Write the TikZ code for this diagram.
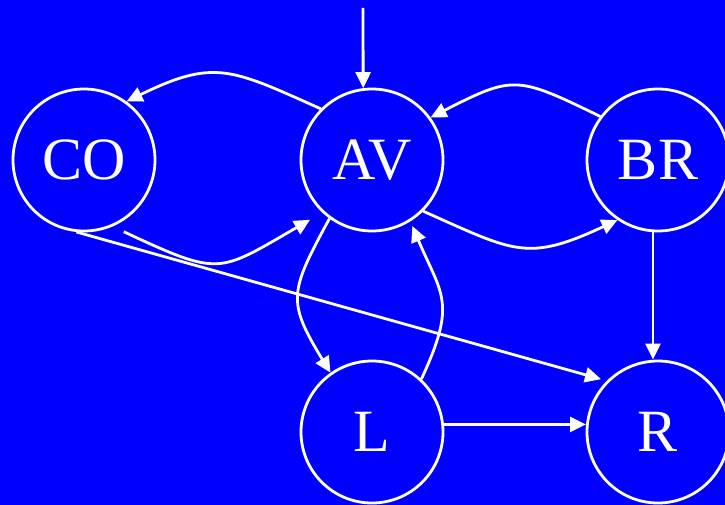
\documentclass[tikz,border=0pt]{standalone}
\usepackage{fontspec}
\setmainfont{Liberation Serif}
\usetikzlibrary{arrows.meta,calc}
\definecolor{bgblue}{RGB}{0,0,255}
\begin{document}
\begin{tikzpicture}[x=1pt,y=1pt,
  state/.style={circle,draw=white,line width=2.8pt,minimum size=142pt,inner sep=0pt,
    text=white,font=\fontsize{60}{60}\selectfont},
  link/.style={draw=white,line width=2.8pt,-{Triangle[length=16pt,width=15pt]}}]
\fill[bgblue] (0,0) rectangle (725,-505);
\useasboundingbox (0,0) rectangle (725,-505);
\node[state] (CO) at (84,-160) {CO};
\node[state] (AV) at (372,-160) {AV};
\node[state] (BR) at (658,-160) {BR};
\node[state] (L) at (372,-432) {L};
\node[state] (R) at (658,-432) {R};
\coordinate (top) at (363,-8);
\draw[link] (top) -- (AV.97);
\draw[link] (AV.135) .. controls +(156:98) and +(26:98) .. (CO.54);
\draw[link] ($(CO.center)+(-61:82)$) .. controls +(-25:107) and +(210:107) .. ($(AV.center)+(224:86)$);
\draw[link] (BR.143) .. controls +(154:93) and +(27:93) .. (AV.36);
\draw[link] (AV.-45) .. controls +(-24:100) and +(205:100) .. (BR.236);
\draw[link] (AV.234) .. controls +(241.5:84) and +(121.4:84) .. (L.125);
\draw[link,shorten >=5pt] (L.47) .. controls +(65:85) and +(-67:80) .. (AV.-58);
\draw[link,shorten >=6pt] (CO.264) -- (R.135);
\draw[link] ([xshift=-5pt]BR.south) -- ([xshift=-5pt]R.north);
\draw[link] (L.6) -- (R.174);
\end{tikzpicture}
\end{document}
